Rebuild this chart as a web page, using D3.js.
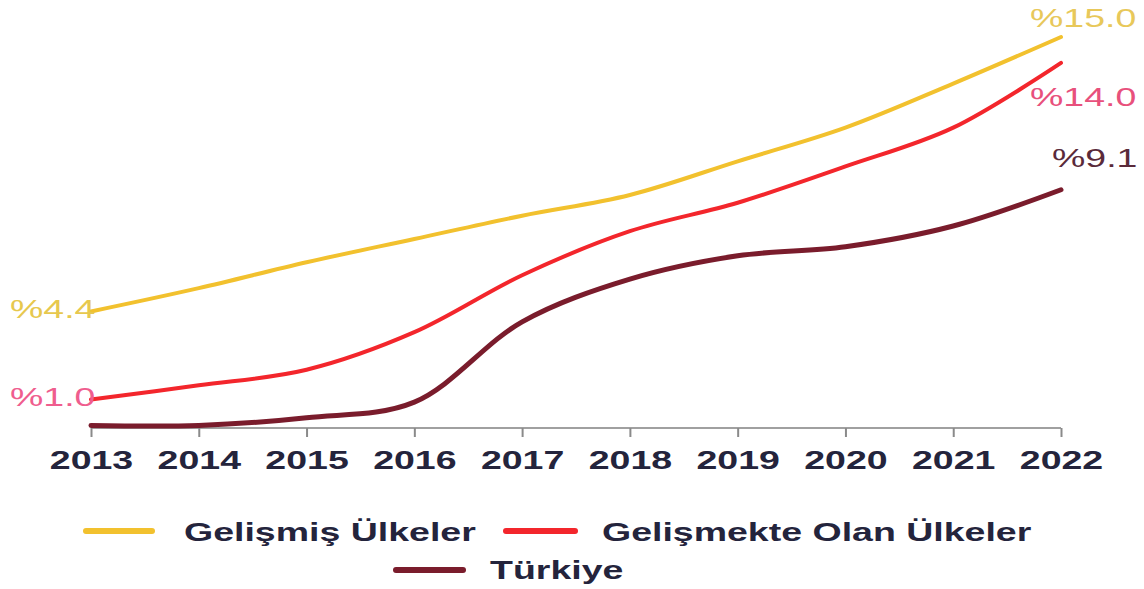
<!DOCTYPE html>
<html><head><meta charset="utf-8">
<script src="https://cdn.jsdelivr.net/npm/d3@7"></script>
<style>
html,body{margin:0;padding:0;background:#fff;}
svg{display:block;font-family:"Liberation Sans",Arial,sans-serif;}
</style></head>
<body>
<svg id="chart" width="1144" height="589"></svg>
<script>
const years = [2013,2014,2015,2016,2017,2018,2019,2020,2021,2022];
const gelismis = [4.4,5.3,6.3,7.2,8.1,8.9,10.2,11.5,13.2,15.0];
const gelismekte = [1.0,1.55,2.15,3.6,5.8,7.5,8.6,10.0,11.5,14.0];
const turkiye = [0.0,0.0,0.3,0.9,4.0,5.65,6.55,6.9,7.7,9.1];
const seriesNames = ["Gelişmiş Ülkeler","Gelişmekte Olan Ülkeler","Türkiye"];
const seriesColors = ["#f2c12e","#f3262c","#7a1c2c"];
const startLabels = ["%4.4","%1.0"];
const endLabels = ["%15.0","%14.0","%9.1"];

const svg = d3.select("#chart");
const x = d3.scalePoint().domain(years).range([91,1061]);
const y = d3.scaleLinear().domain([-0.1,15]).range([428,37]);
const SX = 1.5;

// axis
const ax = svg.append("g").attr("transform","translate(0,428)")
  .call(d3.axisBottom(x).tickSize(9).tickSizeOuter(0).tickPadding(0));
ax.select(".domain").attr("stroke","#a0a0a0").attr("stroke-width",2).attr("d","M91,0H1061");
ax.selectAll(".tick line").attr("stroke","#8a8a8a").attr("stroke-width",2);
ax.selectAll(".tick text").attr("y",41).attr("dy",0)
  .attr("font-size",25).attr("font-weight","bold").attr("fill","#24243c")
  .attr("font-family","Liberation Sans, Arial, sans-serif")
  .attr("transform",`scale(${SX},1)`);

const line = d3.line().x((d,i)=>x(years[i])).y(d=>y(d)).curve(d3.curveCatmullRom.alpha(0.5));
const data = [gelismis,gelismekte,turkiye];
const widths = [4,4,5];
data.forEach((s,i)=>{
  svg.append("path").datum(s).attr("d",line).attr("fill","none")
    .attr("stroke",seriesColors[i]).attr("stroke-width",widths[i])
    .attr("stroke-linecap","round").attr("stroke-linejoin","round");
});

function stretchedText(g, tx, ty, txt, opts){
  g.append("text").attr("transform",`translate(${tx},${ty}) scale(${SX},1)`)
   .attr("font-size",opts.size).attr("font-weight",opts.weight||"normal")
   .attr("fill",opts.fill).attr("text-anchor",opts.anchor||"start").text(txt);
}

// value labels
const lblColorsStart = ["#e7c84e","#ef5d8e"];
const startY = [318,406];
startLabels.forEach((t,i)=>stretchedText(svg,10,startY[i],t,{size:25,fill:lblColorsStart[i]}));
const lblColorsEnd = ["#e8c85a","#e8507c","#5a2a3a"];
const endX = [1030,1030,1052];
const endY = [27,106,167];
endLabels.forEach((t,i)=>stretchedText(svg,endX[i],endY[i],t,{size:25,fill:lblColorsEnd[i]}));

// legend
const legend = [
  {sx1:86, sx2:152, sy:531, tx:184, ty:541},
  {sx1:506, sx2:575, sy:531, tx:602, ty:541},
  {sx1:396, sx2:463, sy:570, tx:490, ty:579}
];
legend.forEach((l,i)=>{
  svg.append("line").attr("x1",l.sx1).attr("x2",l.sx2).attr("y1",l.sy).attr("y2",l.sy)
    .attr("stroke",seriesColors[i]).attr("stroke-width",6).attr("stroke-linecap","round");
  stretchedText(svg,l.tx,l.ty,seriesNames[i],{size:25,weight:"bold",fill:"#24243c"});
});
</script>
</body></html>
